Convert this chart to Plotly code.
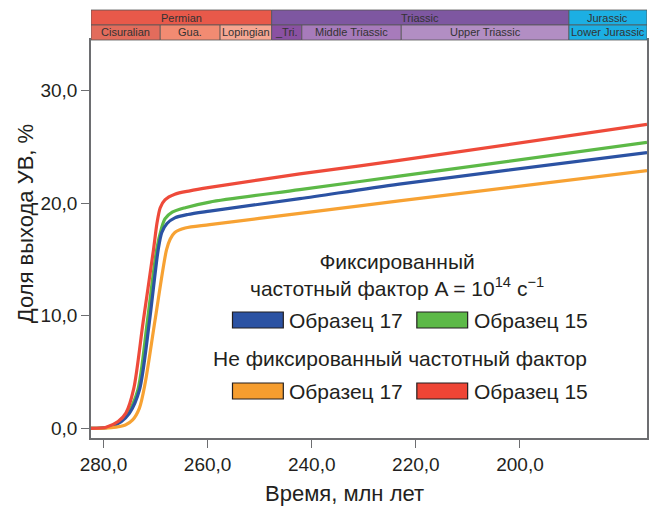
import plotly.graph_objects as go

# ---------------- data (ages in Ma, values in %) ----------------
age_fix17 = [282.4, 279.0, 276.6, 275.0, 273.1, 271.2, 269.5, 268.8, 267.8, 266.3, 263.8, 259.6, 242.3, 223.2, 175.6]
val_fix17 = [0.0, 0.1, 0.6, 1.35, 3.4, 9.4, 15.85, 17.4, 18.2, 18.7, 19.0, 19.3, 20.4, 21.7, 24.5]

age_fix15 = [282.4, 279.2, 276.8, 275.3, 273.4, 271.6, 269.8, 268.9, 268.2, 266.8, 264.3, 259.6, 242.3, 223.2, 175.6]
val_fix15 = [0.0, 0.1, 0.6, 1.35, 3.4, 9.4, 15.85, 17.7, 18.6, 19.2, 19.6, 20.1, 21.2, 22.4, 25.4]

age_nf17 = [282.4, 278.5, 275.8, 274.4, 273.1, 272.0, 270.1, 267.9, 267.2, 266.3, 264.3, 259.6, 242.3, 223.2, 175.6]
val_nf17 = [0.0, 0.05, 0.3, 0.75, 1.8, 4.0, 9.6, 15.85, 16.8, 17.4, 17.8, 18.1, 19.1, 20.2, 22.9]

age_nf15 = [282.4, 279.5, 277.2, 275.7, 274.2, 272.4, 270.4, 269.7, 269.1, 268.2, 266.3, 263.4, 259.6, 242.3, 223.2, 175.6]
val_nf15 = [0.0, 0.1, 0.6, 1.35, 3.5, 9.4, 15.85, 18.3, 19.6, 20.3, 20.8, 21.1, 21.4, 22.6, 23.8, 27.0]

x_ticks = [280, 260, 240, 220, 200]
x_tick_labels = ["280,0", "260,0", "240,0", "220,0", "200,0"]
y_ticks = [0, 10, 20, 30]
y_tick_labels = ["0,0", "10,0", "20,0", "30,0"]

# geological time scale (boundaries in axis units as drawn)
period_names = ["Permian", "Triassic", "Jurassic"]
period_start = [282.4, 247.7, 190.6]
period_end = [247.7, 190.6, 175.6]
period_colors = ["#E8594A", "#7E57A1", "#1CAFE3"]

epoch_names = ["Cisuralian", "Gua.", "Lopingian", "_Tri.", "Middle Triassic", "Upper Triassic", "Lower Jurassic"]
epoch_start = [282.4, 269.1, 257.6, 247.7, 241.9, 222.8, 190.6]
epoch_end = [269.1, 257.6, 247.7, 241.9, 222.8, 190.6, 175.6]
epoch_colors = ["#E26C5C", "#F28B72", "#F6A793", "#8A51A2", "#A77BBB", "#B28EC3", "#1CAFE3"]

legend_group_titles = ["Фиксированный<br>частотный фактор A = 10<sup>14</sup> с<sup>−1</sup>",
                       "Не фиксированный частотный фактор"]
legend_labels = ["Образец 17", "Образец 15", "Образец 17", "Образец 15"]
legend_colors = ["#2B52A3", "#5CB947", "#F59D2F", "#EE4535"]

line_colors = {"fix17": "#2B52A3", "fix15": "#5CB947", "nf17": "#F7A233", "nf15": "#EE4A3A"}

# ---------------- figure ----------------
OFF = 8  # page body margin
W, H = 659 - OFF, 507 - OFF
L, R, T, B = 91 - OFF, 10, 40 - OFF, 69
PW, PH = W - L - R, H - T - B

def px(x):
    # reference-picture x pixel -> paper fraction
    return (x - OFF - L) / PW

def py(y):
    # reference-picture y pixel -> paper fraction
    return (H - B - (y - OFF)) / PH

FONT = "Liberation Sans, Arial, sans-serif"
TXT = "#231F20"

fig = go.Figure()
for key, ax, vy in [("fix15", age_fix15, val_fix15), ("fix17", age_fix17, val_fix17),
                    ("nf17", age_nf17, val_nf17), ("nf15", age_nf15, val_nf15)]:
    fig.add_trace(go.Scatter(x=ax, y=vy, mode="lines",
                             line=dict(color=line_colors[key], width=3.2, shape="spline", smoothing=0.8),
                             showlegend=False, hoverinfo="skip"))

shapes = []
annotations = []

# time scale rows
row1 = (1 + 15 / PH, 1 + 30 / PH)
row2 = (1.0, 1 + 15 / PH)
for n, s, e, c in zip(period_names, period_start, period_end, period_colors):
    shapes.append(dict(type="rect", xref="x", yref="paper", x0=s, x1=e, y0=row1[0], y1=row1[1],
                       fillcolor=c, line=dict(color="#555555", width=0.8), layer="above"))
    annotations.append(dict(x=(s + e) / 2, y=(row1[0] + row1[1]) / 2, xref="x", yref="paper",
                            text=n, showarrow=False, font=dict(family=FONT, size=11, color="#333333"),
                            xanchor="center", yanchor="middle"))
for n, s, e, c in zip(epoch_names, epoch_start, epoch_end, epoch_colors):
    shapes.append(dict(type="rect", xref="x", yref="paper", x0=s, x1=e, y0=row2[0], y1=row2[1],
                       fillcolor=c, line=dict(color="#555555", width=0.8), layer="above"))
    annotations.append(dict(x=(s + e) / 2, y=(row2[0] + row2[1]) / 2, xref="x", yref="paper",
                            text=n, showarrow=False, font=dict(family=FONT, size=11, color="#333333"),
                            xanchor="center", yanchor="middle"))

# custom legend
annotations.append(dict(x=px(398), y=py(275), xref="paper", yref="paper", text=legend_group_titles[0],
                        showarrow=False, align="center", font=dict(family=FONT, size=21, color=TXT),
                        xanchor="center", yanchor="middle"))
annotations.append(dict(x=px(401), y=py(358), xref="paper", yref="paper", text=legend_group_titles[1],
                        showarrow=False, align="center", font=dict(family=FONT, size=21, color=TXT),
                        xanchor="center", yanchor="middle"))
box_pos = [(233, 320), (418, 320), (233, 391), (418, 391)]
for (bx, by), lab, col in zip(box_pos, legend_labels, legend_colors):
    shapes.append(dict(type="rect", xref="paper", yref="paper", x0=px(bx), x1=px(bx + 51),
                       y0=py(by + 8), y1=py(by - 8), fillcolor=col, line=dict(color="#231F20", width=1.2)))
    annotations.append(dict(x=px(bx + 55), y=py(by), xref="paper", yref="paper", text=lab,
                            showarrow=False, font=dict(family=FONT, size=21, color=TXT),
                            xanchor="left", yanchor="middle"))

# axis titles
annotations.append(dict(x=px(345), y=py(493), xref="paper", yref="paper", text="Время, млн лет",
                        showarrow=False, font=dict(family=FONT, size=22, color=TXT),
                        xanchor="center", yanchor="middle"))
annotations.append(dict(x=px(25), y=py(224), xref="paper", yref="paper", text="Доля выхода УВ, %",
                        showarrow=False, textangle=-90, font=dict(family=FONT, size=22, color=TXT),
                        xanchor="center", yanchor="middle"))

fig.update_layout(
    width=W, height=H,
    margin=dict(l=L, r=R, t=T, b=B, pad=0),
    paper_bgcolor="white", plot_bgcolor="white",
    separators=", ",
    font=dict(family=FONT, size=19, color=TXT),
    shapes=shapes, annotations=annotations,
    showlegend=False,
)
fig.update_xaxes(range=[282.4, 175.6], tickvals=x_ticks, ticktext=x_tick_labels,
                 showgrid=False, zeroline=False, showline=True, linecolor="#6D6E71", linewidth=1.5,
                 mirror=True, ticks="outside", ticklen=8, tickwidth=1.2, tickcolor="#6D6E71",
                 tickfont=dict(family=FONT, size=19, color=TXT))
fig.update_yaxes(range=[-0.86, 34.5], tickvals=y_ticks, ticktext=y_tick_labels,
                 showgrid=False, zeroline=False, showline=True, linecolor="#6D6E71", linewidth=1.5,
                 mirror=True, ticks="outside", ticklen=8, tickwidth=1.2, tickcolor="#6D6E71",
                 tickfont=dict(family=FONT, size=19, color=TXT))

fig.write_html("out.html")
